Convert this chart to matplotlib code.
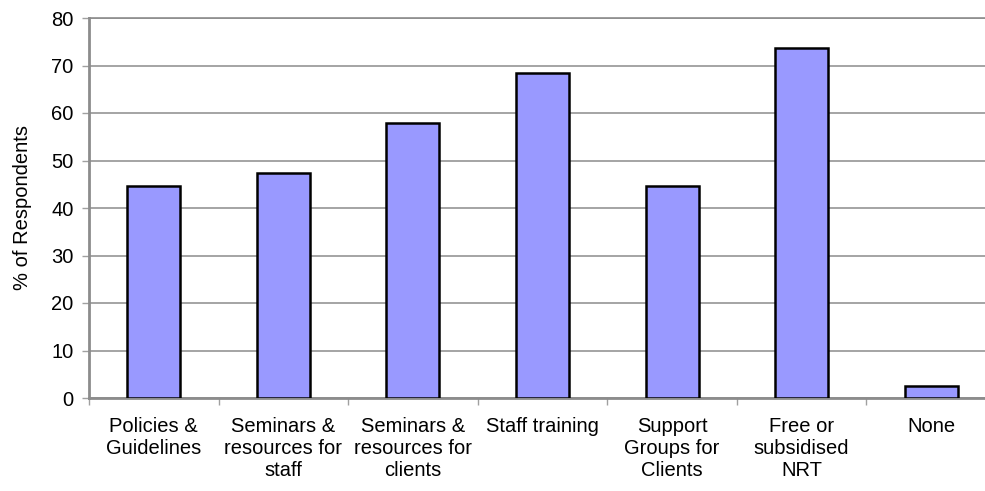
import numpy as np
import matplotlib.pyplot as plt

plt.rcParams['font.family'] = ['Liberation Sans', 'DejaVu Sans']

# data
categories = ['Policies &\nGuidelines', 'Seminars &\nresources for\nstaff',
              'Seminars &\nresources for\nclients', 'Staff training',
              'Support\nGroups for\nClients', 'Free or\nsubsidised\nNRT', 'None']
values = [44.7, 47.4, 57.9, 68.4, 44.7, 73.7, 2.6]

fig = plt.figure(figsize=(9.85, 4.91), dpi=100)
# right edge goes past the image, like the original (clipped)
ax = fig.add_axes([89/985, 1 - 398/491, 907/985, 380/491])

x = np.arange(len(categories))
ax.bar(x, values, width=0.41, color='#9999FF', edgecolor='black', linewidth=1.8, zorder=3)

ax.set_xlim(-0.5, len(categories) - 0.5)
ax.set_ylim(0, 80)
ax.set_yticks(np.arange(0, 81, 10))
ax.yaxis.grid(True, color='#8c8c8c', linewidth=1.1, zorder=0)

fs = 14.5
# boundary ticks outside, centre ticks inside
ax.set_xticks(np.arange(-0.5, len(categories), 1))
ax.set_xticklabels([])
ax.set_xticks(x, minor=True)
ax.set_xticklabels(categories, minor=True, fontsize=fs, linespacing=1.17)
ax.tick_params(axis='x', which='major', direction='out', length=5, color='#a0a0a0', width=1)
ax.tick_params(axis='x', which='minor', direction='in', length=5, color='#a0a0a0', width=1, pad=14)
ax.tick_params(axis='y', direction='out', length=5, color='#a0a0a0', width=1, labelsize=fs, pad=6)
for lbl in ax.get_xticklabels(minor=True):
    lbl.set_verticalalignment('top')

ax.set_ylabel('% of Respondents', fontsize=fs, labelpad=14)

for s in ['left', 'bottom', 'top']:
    ax.spines[s].set_color('#8c8c8c')
    ax.spines[s].set_linewidth(2)
ax.spines['top'].set_linewidth(1.2)
ax.spines['right'].set_visible(False)

plt.savefig('out.png', dpi=100)
